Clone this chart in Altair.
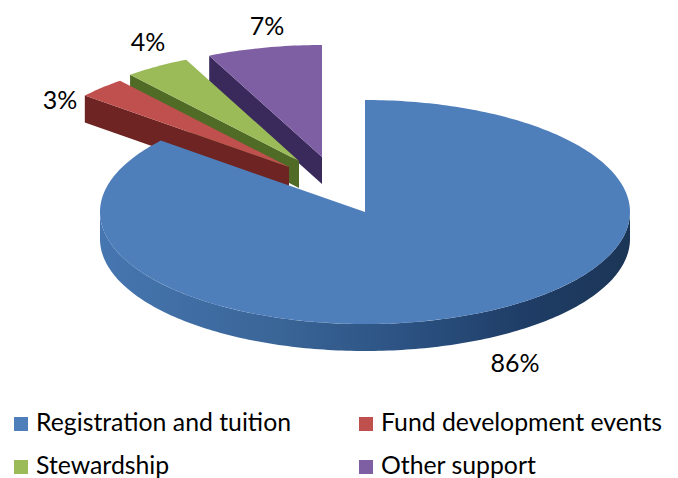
import math
import altair as alt
import pandas as pd

categories = ["Registration and tuition", "Fund development events", "Stewardship", "Other support"]
values = [86, 3, 4, 7]
top_colors = ["#4f7fbb", "#c0504d", "#9bbb59", "#7f5fa3"]
wall_colors = ["#2f5b8e", "#6e2422", "#4f6b26", "#3a2a5c"]
label_texts = ["86%", "3%", "4%", "7%"]

# layout of the tilted pie
RX, RY, DEPTH = 265, 112, 27
APEX = {0: (365, 212), 1: (289, 167), 2: (299, 161), 3: (322, 157)}
LABEL_POS = [(515, 364), (60, 101), (148, 43), (267, 27)]
LEGEND_POS = [(21, 424), (366, 424), (21, 467), (366, 467)]

def pt(a, i, dz=0):
    r = math.radians(a)
    ax, ay = APEX[i]
    return (ax + RX * math.sin(r), ay - RY * math.cos(r) + dz)

def arc(a0, a1, i, dz=0, step=1.0):
    n = max(2, int(abs(a1 - a0) / step) + 1)
    return [pt(a0 + (a1 - a0) * k / (n - 1), i, dz) for k in range(n)]

spans = []
start = 0.0
for v in values:
    spans.append((start, start + v * 3.6))
    start += v * 3.6

polys = []  # (points, fill)

def add(points, fill):
    polys.append((points, fill))

blue_wall = alt.Gradient(
    gradient="linear", x1=0, y1=0, x2=1, y2=0,
    stops=[
        alt.GradientStop(offset=0, color="#4676b0"),
        alt.GradientStop(offset=0.35, color="#396496"),
        alt.GradientStop(offset=0.6, color="#2a5080"),
        alt.GradientStop(offset=0.8, color="#1f3d66"),
        alt.GradientStop(offset=1, color="#1b3556"),
    ],
)

# draw back to front: purple, green, red, then blue
for i in [3, 2, 1]:
    a0, a1 = spans[i]
    ax, ay = APEX[i]
    outer = pt(a0, i)
    outer_b = pt(a0, i, DEPTH)
    add([outer, (ax, ay), (ax, ay + DEPTH), outer_b], wall_colors[i])
    add([(ax, ay)] + arc(a0, a1, i), top_colors[i])

a0, a1 = spans[0]
add(arc(90, 270, 0) + arc(270, 90, 0, DEPTH), blue_wall)
add([APEX[0]] + arc(a0, a1, 0), top_colors[0])

layers = []
x_scale = alt.Scale(domain=[8, 670], nice=False, zero=False)
y_scale = alt.Scale(domain=[478, 8], nice=False, zero=False)
X = alt.X("x:Q", scale=x_scale, axis=None)
Y = alt.Y("y:Q", scale=y_scale, axis=None)

for pts, fill in polys:
    df = pd.DataFrame([{"x": p[0], "y": p[1], "i": k} for k, p in enumerate(pts + [pts[0]])])
    layers.append(
        alt.Chart(df).mark_line(fill=fill, strokeWidth=0, interpolate="linear", clip=False)
        .encode(x=X, y=Y, order="i:O")
    )

labels = pd.DataFrame({"x": [p[0] for p in LABEL_POS], "y": [p[1] for p in LABEL_POS], "t": label_texts})
layers.append(
    alt.Chart(labels).mark_text(font="Lato", fontSize=25, color="#000000", align="center", baseline="middle")
    .encode(x=X, y=Y, text="t:N")
)

legend = pd.DataFrame({
    "x": [p[0] for p in LEGEND_POS],
    "y": [p[1] for p in LEGEND_POS],
    "tx": [p[0] + 15 for p in LEGEND_POS],
    "t": categories,
    "c": top_colors,
})
layers.append(
    alt.Chart(legend).mark_square(size=196, opacity=1)
    .encode(x=X, y=Y, color=alt.Color("c:N", scale=None))
)
layers.append(
    alt.Chart(legend).mark_text(font="Lato", fontSize=24.8, color="#000000", align="left", baseline="middle")
    .encode(x=alt.X("tx:Q", scale=x_scale, axis=None), y=Y, text="t:N")
)

chart = alt.layer(*layers).properties(
    width=662, height=470, padding=0, autosize=alt.AutoSizeParams(type="none"), background="white"
).configure_view(stroke=None)

chart.save("out.html", embed_options={"renderer": "svg", "actions": False})
